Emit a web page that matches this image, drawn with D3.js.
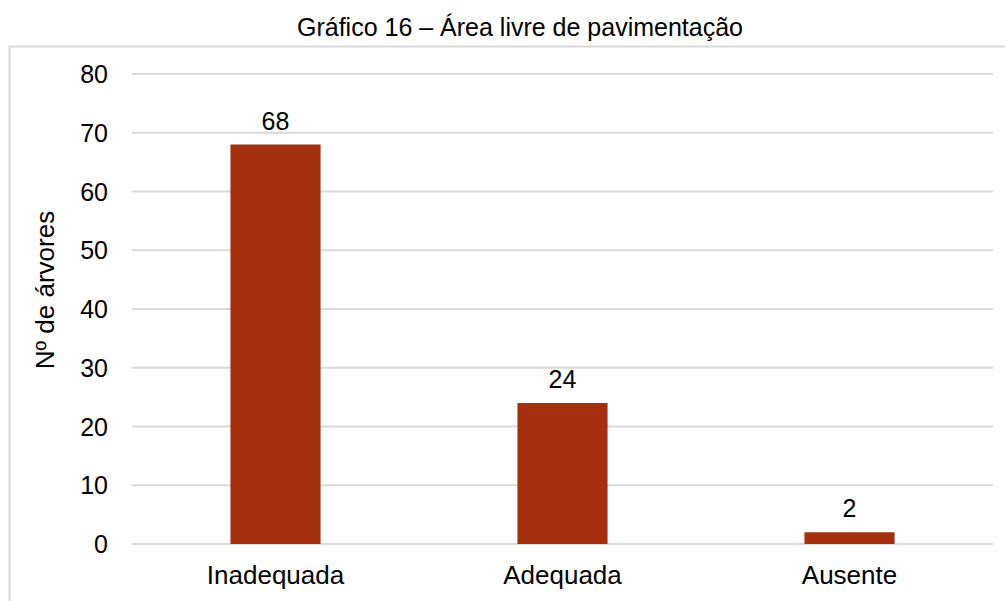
<!DOCTYPE html>
<html>
<head>
<meta charset="utf-8">
<script src="https://cdn.jsdelivr.net/npm/d3@7"></script>
<style>
  body { margin: 0; background: #fff; }
  text { font-family: "Liberation Sans", Arial, sans-serif; fill: #000; }
</style>
</head>
<body>
<div id="chart"></div>
<script>
const WIDTH = 1005;
const HEIGHT = 601;

const categories = ['Inadequada', 'Adequada', 'Ausente'];
const values = [68, 24, 2];
const yTicks = [0, 10, 20, 30, 40, 50, 60, 70, 80];

const title = 'Gráfico 16 – Área livre de pavimentação';
const yTitle = 'Nº de árvores';

const svg = d3.select('#chart')
    .append('svg')
    .attr('width', WIDTH)
    .attr('height', HEIGHT);

// chart frame
svg.append('rect')
    .attr('x', 9.5)
    .attr('y', 46.5)
    .attr('width', 1010)
    .attr('height', 600)
    .attr('fill', 'none')
    .attr('stroke', '#d9d9d9')
    .attr('stroke-width', 2);

svg.append('text')
    .text(title)
    .attr('x', 520)
    .attr('y', 36)
    .attr('font-size', 25)
    .attr('text-anchor', 'middle');

const x = d3.scaleBand()
    .domain(categories)
    .range([132, 993])
    .paddingInner(0.686)
    .paddingOuter(0.343);

const y = d3.scaleLinear()
    .domain([0, 80])
    .range([544, 74]);

// gridlines
svg.append('g')
    .selectAll('line')
    .data(yTicks)
    .enter()
    .append('line')
    .attr('x1', 132)
    .attr('x2', 993)
    .attr('y1', d => y(d))
    .attr('y2', d => y(d))
    .attr('stroke', '#d9d9d9')
    .attr('stroke-width', 2);

// y tick labels
svg.append('g')
    .selectAll('text')
    .data(yTicks)
    .enter()
    .append('text')
    .text(d => d)
    .attr('x', 108)
    .attr('y', d => y(d))
    .attr('dy', '0.36em')
    .attr('font-size', 25)
    .attr('text-anchor', 'end');

// bars
svg.append('g')
    .selectAll('rect')
    .data(values)
    .enter()
    .append('rect')
    .attr('x', (d, i) => x(categories[i]))
    .attr('y', d => y(d))
    .attr('width', x.bandwidth())
    .attr('height', d => y(0) - y(d))
    .attr('fill', '#a5300f');

// value labels
svg.append('g')
    .selectAll('text')
    .data(values)
    .enter()
    .append('text')
    .text(d => d)
    .attr('x', (d, i) => x(categories[i]) + x.bandwidth() / 2)
    .attr('y', d => y(d) - 15)
    .attr('font-size', 25)
    .attr('text-anchor', 'middle');

// category labels
svg.append('g')
    .selectAll('text')
    .data(categories)
    .enter()
    .append('text')
    .text(d => d)
    .attr('x', d => x(d) + x.bandwidth() / 2)
    .attr('y', 584)
    .attr('font-size', 26)
    .attr('text-anchor', 'middle');

// y axis title
svg.append('text')
    .text(yTitle)
    .attr('transform', 'translate(54,290) rotate(-90)')
    .attr('font-size', 26)
    .attr('text-anchor', 'middle');
</script>
</body>
</html>
